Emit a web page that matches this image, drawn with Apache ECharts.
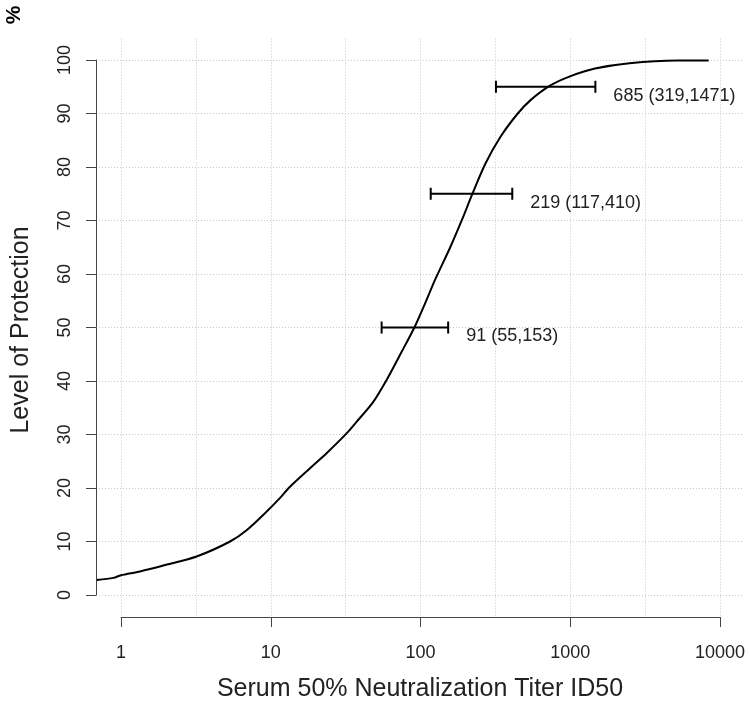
<!DOCTYPE html>
<html><head><meta charset="utf-8">
<script src="https://cdn.jsdelivr.net/npm/echarts@6/dist/echarts.min.js"></script>
<style>html,body{margin:0;padding:0;background:#fff}#c{width:750px;height:708px}</style>
</head><body><div id="c"></div>
<script>
// ---- data ----
const titer = [0.69, 0.89, 1.0, 1.34, 1.92, 3.2, 5.35, 6.9, 9.4, 11.5, 13.4, 18.3, 23.6, 32.1, 37.5, 48.4, 59.4, 75, 91, 108, 125, 158, 189, 223, 272, 343, 446, 543, 732, 986, 1462, 2483, 5130, 8400];
const level = [2.8, 3.2, 3.7, 4.4, 5.5, 7.2, 10.0, 12.1, 15.6, 18.1, 20.2, 23.7, 26.5, 30.2, 32.4, 36.1, 40.2, 45.5, 50, 54.7, 58.9, 65, 70.1, 75.1, 80.7, 85.7, 90.0, 92.5, 95.2, 96.9, 98.4, 99.4, 99.9, 99.9];
const ciLevel = [50, 75, 95];
const ciCenter = [91, 219, 685];
const ciLow = [55, 117, 319];
const ciHigh = [153, 410, 1471];
const xTicks = [1, 10, 100, 1000, 10000];
const yTickMin = 0, yTickMax = 100, yTickStep = 10;
const xTitle = 'Serum 50% Neutralization Titer ID50';
const yTitle = 'Level of Protection';
const yUnit = '%';

// ---- chart ----
const FONT = '"Liberation Sans", Arial, Helvetica, sans-serif';
const TXT = '#222';
const AX = '#444';
const GRID = '#c9c9c9';
const chart = echarts.init(document.getElementById('c'), null, {renderer: 'canvas'});

// R-style plot region: 4% padding around xlim (1..10000, log) and ylim (0..100)
const lx0 = Math.log10(xTicks[0]), lx1 = Math.log10(xTicks[xTicks.length - 1]);
const padX = (lx1 - lx0) * 0.04;
const padY = (yTickMax - yTickMin) * 0.04;

const errData = ciLevel.map((lv, i) => [ciLow[i], lv, ciHigh[i], ciCenter[i]]);

const option = {
  backgroundColor: '#fff',
  animation: false,
  grid: [
    {left: 97, right: 6, top: 38.6, bottom: 91.6, containLabel: false},   // data region
    {left: 96, right: 6, top: 60, bottom: 113, containLabel: false},      // y axis + horizontal grid
    {left: 121, right: 30, top: 38.6, bottom: 91, containLabel: false}    // x axis + vertical grid
  ],
  xAxis: [
    {gridIndex: 0, type: 'log', min: Math.pow(10, lx0 - padX), max: Math.pow(10, lx1 + padX), show: false},
    {gridIndex: 1, type: 'value', show: false},
    {gridIndex: 2, type: 'log', logBase: 10, min: xTicks[0], max: xTicks[xTicks.length - 1],
      axisLine: {show: true, lineStyle: {color: AX, width: 1}},
      axisTick: {show: true, inside: false, length: 10, lineStyle: {color: AX, width: 1}},
      axisLabel: {show: true, margin: 27, fontSize: 18, fontFamily: FONT, color: TXT,
        formatter: v => String(Math.round(v))},
      splitLine: {show: false}},
    {gridIndex: 2, type: 'log', logBase: Math.sqrt(10), min: xTicks[0], max: xTicks[xTicks.length - 1],
      axisLine: {show: false}, axisTick: {show: false}, axisLabel: {show: false},
      splitLine: {show: true, lineStyle: {color: GRID, width: 1, type: [1, 2]}}}
  ],
  yAxis: [
    {gridIndex: 0, type: 'value', min: yTickMin - padY, max: yTickMax + padY, show: false},
    {gridIndex: 1, type: 'value', min: yTickMin, max: yTickMax, interval: yTickStep,
      axisLine: {show: true, lineStyle: {color: AX, width: 1}},
      axisTick: {show: true, inside: false, length: 10, lineStyle: {color: AX, width: 1}},
      axisLabel: {show: true, rotate: 90, margin: 22, fontSize: 18, fontFamily: FONT, color: TXT},
      splitLine: {show: true, lineStyle: {color: GRID, width: 1, type: [1, 2]}}},
    {gridIndex: 2, type: 'value', show: false}
  ],
  series: [
    {
      type: 'line', xAxisIndex: 0, yAxisIndex: 0,
      data: titer.map((t, i) => [t, level[i]]),
      smooth: 0.3, showSymbol: false, symbol: 'none', clip: true,
      lineStyle: {color: '#000', width: 2}
    },
    {
      type: 'custom', xAxisIndex: 0, yAxisIndex: 0,
      encode: {x: [0, 2], y: 1},
      data: errData,
      renderItem: function (params, api) {
        const lo = api.coord([api.value(0), api.value(1)]);
        const hi = api.coord([api.value(2), api.value(1)]);
        const cap = 6;
        const st = {stroke: '#000', lineWidth: 2};
        const label = api.value(3) + ' (' + api.value(0) + ',' + api.value(2) + ')';
        return {type: 'group', children: [
          {type: 'line', shape: {x1: lo[0], y1: lo[1], x2: hi[0], y2: hi[1]}, style: st},
          {type: 'line', shape: {x1: lo[0], y1: lo[1] - cap, x2: lo[0], y2: lo[1] + cap}, style: st},
          {type: 'line', shape: {x1: hi[0], y1: hi[1] - cap, x2: hi[0], y2: hi[1] + cap}, style: st},
          {type: 'text', x: hi[0] + 18, y: hi[1] + 9,
            style: {text: label, fill: TXT, font: '18px ' + FONT, textAlign: 'left', textVerticalAlign: 'middle'}}
        ]};
      }
    }
  ],
  graphic: [
    {type: 'text', x: 420, y: 689, style: {text: xTitle, fill: TXT, font: '25px ' + FONT, textAlign: 'center', textVerticalAlign: 'middle'}},
    {type: 'text', x: 21, y: 330, rotation: Math.PI / 2, style: {text: yTitle, fill: TXT, font: '25px ' + FONT, textAlign: 'center', textVerticalAlign: 'middle'}},
    {type: 'text', x: 14, y: 15, rotation: Math.PI / 2, style: {text: yUnit, fill: '#000', font: 'bold 21px ' + FONT, textAlign: 'center', textVerticalAlign: 'middle'}}
  ]
};
chart.setOption(option);
</script>
</body></html>
